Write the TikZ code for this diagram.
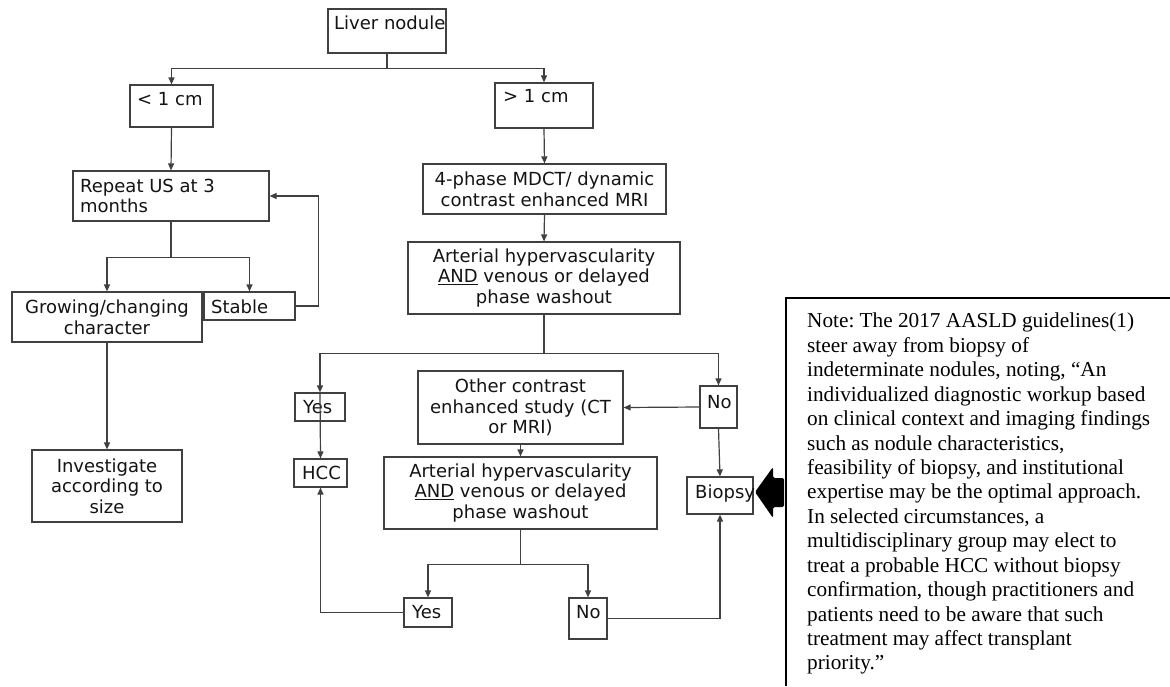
\documentclass[tikz,border=0pt]{standalone}
\usepackage{fontspec}
\setmainfont{Liberation Serif}
\newfontfamily\flowfont{DejaVu Sans}
\usetikzlibrary{arrows.meta,calc}
\colorlet{ln}{black!75}
\frenchspacing
\tikzset{
  boxn/.style={draw=ln, line width=1.2pt, inner sep=0pt, rectangle},
  lbl/.style={inner sep=0pt, font=\flowfont\fontsize{18}{20.7}\selectfont, text=black!92},
  conn/.style={draw=ln, line width=1.2pt},
  arr/.style={conn, -{Triangle[length=7pt,width=6pt]}},
  notet/.style={inner sep=0pt, align=left, font=\fontsize{21.25}{24.43}\selectfont, text=black},
}
\newcommand\bx[5]{\node[boxn, minimum width={(#4-#2)*1pt}, minimum height={(#5-#3)*1pt}] (#1) at ({(#2+#4)/2},{(#3+#5)/2}) {};}
\begin{document}
\begin{tikzpicture}[x=1pt,y=-1pt]
\useasboundingbox (0,0) rectangle (1170,686);
\fill[white] (0,0) rectangle (1170,686);

% boxes
\bx{liver}{328}{9}{446}{53}
\node[lbl, anchor=base west] (liver-t) at (334,29) {Liver nodule};
\bx{lt}{130}{85}{213}{127}
\node[lbl, anchor=base west] (lt-t) at (137,105) {< 1 cm};
\bx{gt}{495}{83}{593}{128}
\node[lbl, anchor=base west] (gt-t) at (503,102) {> 1 cm};
\bx{rep}{73}{171}{269}{221}
\node[lbl, anchor=west, align=left] (rep-t) at (80,196) {Repeat US at 3\\months};
\bx{grow}{12}{292}{202}{342}
\node[lbl, align=center] (grow-t) at (grow) {Growing/changing\\character};
\bx{stab}{204}{292}{295}{320}
\node[lbl, anchor=base west] (stab-t) at (211,313) {Stable};
\bx{inv}{32}{450}{182}{522}
\node[lbl, align=center] (inv-t) at (inv) {Investigate\\according to\\size};
\bx{mdct}{423}{164}{666}{214}
\node[lbl, align=center] (mdct-t) at (mdct) {4-phase MDCT/ dynamic\\contrast enhanced MRI};
\bx{art}{408}{242}{680}{314}
\node[lbl, align=center] (art-t) at (art) {Arterial hypervascularity\\\underline{AND} venous or delayed\\phase washout};
\bx{yesa}{295}{393}{345}{421}
\node[lbl, anchor=base west] (yesa-t) at (303,413) {Yes};
\bx{hcc}{294}{459}{347}{487}
\node[lbl, anchor=base west] (hcc-t) at (302,479) {HCC};
\bx{other}{418}{371}{623}{444}
\node[lbl, align=center] (other-t) at (other) {Other contrast\\enhanced study (CT\\or MRI)};
\bx{noa}{700}{386}{737}{428}
\node[lbl, anchor=base west] (noa-t) at (707,408) {No};
\bx{bio}{687}{477}{753}{514}
\node[lbl, anchor=base west] (bio-t) at (695,498) {Biopsy};
\bx{art2}{384}{457}{657}{529}
\node[lbl, align=center] (art2-t) at (art2) {Arterial hypervascularity\\\underline{AND} venous or delayed\\phase washout};
\bx{yesb}{404}{598}{452}{627}
\node[lbl, anchor=base west] (yesb-t) at (412,618) {Yes};
\bx{nob}{569}{598}{607}{639}
\node[lbl, anchor=base west] (nob-t) at (576,618) {No};

% connectors
\coordinate (j1) at ($(liver.south)+(0,15)$);
\draw[conn] (liver.south) -- (j1);
\draw[arr] (j1) -| (lt.north);
\draw[arr] (j1) -| (gt.north);
\draw[arr] (lt.south) -- (rep.north);
\coordinate (j2) at ($(rep.south)+(0,36)$);
\draw[conn] (rep.south) -- (j2);
\draw[arr] (j2) -| (grow.north);
\draw[arr] (j2) -| (stab.north);
\draw[arr] (stab.east) -- ++(23,0) |- (rep.east);
\draw[arr] (grow.south) -- (inv.north);
\draw[arr] (gt.south) -- (mdct.north);
\draw[arr] (mdct.south) -- (art.north);
\coordinate (j3) at ($(art.south)+(0,39)$);
\draw[conn] (art.south) -- (j3);
\draw[arr] (j3) -| (yesa.north);
\draw[arr] (j3) -| (noa.north);
\draw[arr] (yesa.north) -- (hcc.north);
\draw[arr] (noa.west) -- (other.east);
\draw[arr] (noa.south) -- (bio.north);
\draw[arr] (other.south) -- (art2.north);
\coordinate (j4) at ($(art2.south)+(0,35)$);
\draw[conn] (art2.south) -- (j4);
\draw[arr] (j4) -| (yesb.north);
\draw[arr] (j4) -| (nob.north);
\draw[arr] (yesb.west) -| (hcc.south);
\draw[arr] (nob.east) -| (bio.south);

% note box
\draw[line width=2pt, black] (786,686) -- (786,298) -- (1170,298);
\node[notet, anchor=north west] (note) at (807,313) {Note: The 2017 AASLD guidelines(1)\\
steer away from biopsy of\\
indeterminate nodules, noting, “An\\
individualized diagnostic workup based\\
on clinical context and imaging findings\\
such as nodule characteristics,\\
feasibility of biopsy, and institutional\\
expertise may be the optimal approach.\\
In selected circumstances, a\\
multidisciplinary group may elect to\\
treat a probable HCC without biopsy\\
confirmation, though practitioners and\\
patients need to be aware that such\\
treatment may affect transplant\\
priority.”};

% big pointer arrow
\fill[black, rounded corners=1.5pt] (755,492) -- (773,467) -- (773,478) -- (784,478) -- (784,507) -- (773,507) -- (773,518) -- cycle;
\end{tikzpicture}
\end{document}
